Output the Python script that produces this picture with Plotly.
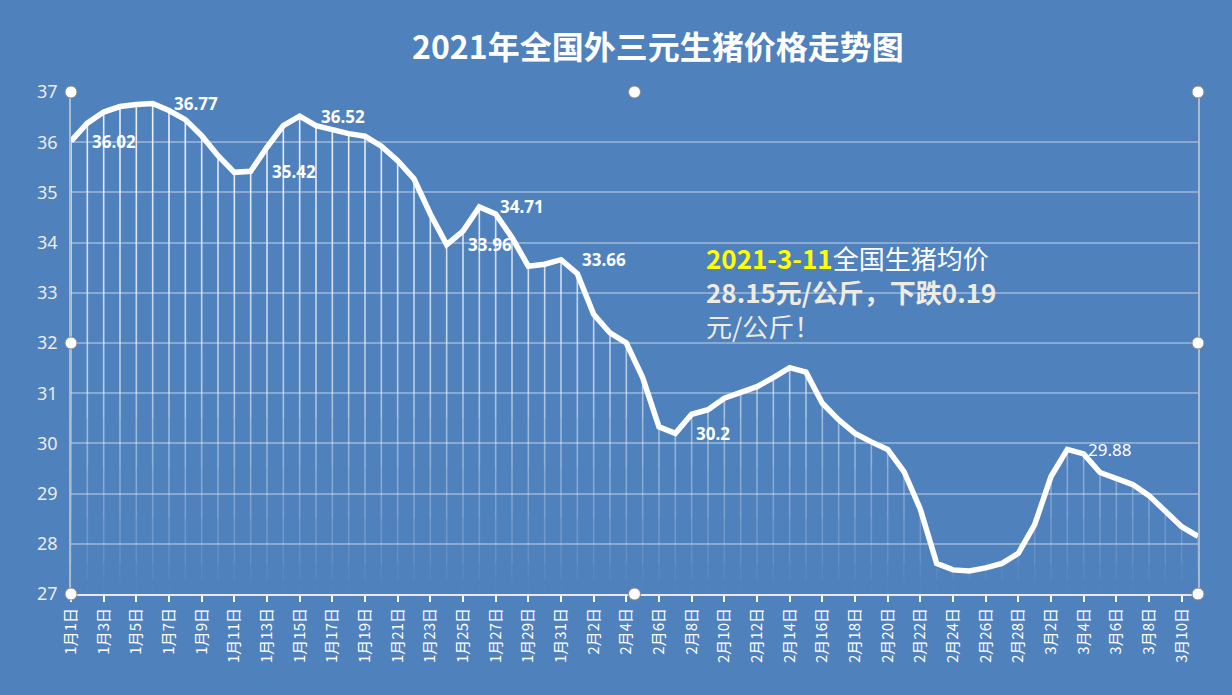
import pandas as pd
import plotly.graph_objects as go

# ---------------- data ----------------
days = [f"{d.month}月{d.day}日" for d in pd.date_range("2021-01-01", "2021-03-11")]

prices = [
    36.02, 36.38, 36.60, 36.71, 36.75, 36.77, 36.63, 36.45, 36.13, 35.73,
    35.40, 35.42, 35.90, 36.33, 36.52, 36.33, 36.25, 36.17, 36.12, 35.92,
    35.63, 35.27, 34.57, 33.96, 34.23, 34.71, 34.57, 34.10, 33.53, 33.57,
    33.66, 33.38, 32.57, 32.20, 32.00, 31.31, 30.33, 30.20, 30.58, 30.67,
    30.90, 31.02, 31.13, 31.31, 31.51, 31.42, 30.80, 30.47, 30.20, 30.03,
    29.88, 29.44, 28.69, 27.61, 27.48, 27.46, 27.52, 27.61, 27.81, 28.38,
    29.34, 29.88, 29.79, 29.42, 29.29, 29.18, 28.96, 28.66, 28.34, 28.15,
]

label_days = ["1月1日", "1月6日", "1月12日", "1月15日", "1月24日",
              "1月26日", "1月31日", "2月7日", "3月3日"]
label_texts = ["36.02", "36.77", "35.42", "36.52", "33.96",
               "34.71", "33.66", "30.2", "29.88"]
label_bold = [True, True, True, True, True, True, True, True, False]

tick_labels = days[::2]
y_ticks = [27, 28, 29, 30, 31, 32, 33, 34, 35, 36, 37]

title_text = "2021年全国外三元生猪价格走势图"
note_line1_date = "2021-3-11"
note_line1_rest = "全国生猪均价"
note_line2 = "28.15元/公斤，下跌0.19"
note_line3 = "元/公斤！"

# ---------------- style ----------------
BG = "#4F81BD"
CJK = "Noto Sans CJK SC"

fig = go.Figure()

# fading drop lines (opacity by height)
levels = [27.0, 27.3, 27.6, 28.0, 28.5, 29.0, 29.5, 30.0, 30.5, 31.0,
          32.0, 33.0, 34.0, 35.0, 36.0, 37.0]
alphas = [0.02, 0.06, 0.12, 0.19, 0.26, 0.32, 0.38, 0.45, 0.52, 0.60,
          0.68, 0.75, 0.80, 0.85, 0.88]
for lo, hi, a in zip(levels[:-1], levels[1:], alphas):
    xs, ys = [], []
    for d, v in zip(days, prices):
        if v > lo:
            xs += [d, d, None]
            ys += [lo, min(v, hi), None]
    if xs:
        fig.add_trace(go.Scatter(
            x=xs, y=ys, mode="lines",
            line=dict(color=f"rgba(255,255,255,{a})", width=1.6),
            hoverinfo="skip", showlegend=False))

# main price line
fig.add_trace(go.Scatter(
    x=days, y=prices, mode="lines",
    line=dict(color="white", width=5.5),
    showlegend=False, name="价格"))

# data labels
for d, t, b in zip(label_days, label_texts, label_bold):
    v = prices[days.index(d)]
    fig.add_annotation(
        x=d, y=v, text=f"<b>{t}</b>" if b else t, showarrow=False,
        xanchor="left", yanchor="middle", xshift=19,
        font=dict(family="Noto Sans", size=17, color="white"))

# commentary text (single block, three lines)
note_text = (
    f"<b><span style='color:#FFFF00'>{note_line1_date}</span></b>"
    f"<span style='color:#FFFFFF'>{note_line1_rest}</span><br>"
    f"<b>{note_line2}</b><br>"
    f"{note_line3}"
)
fig.add_annotation(
    xref="paper", yref="paper", x=0.562, y=0.602, xanchor="left", yanchor="middle",
    align="left", text=note_text, showarrow=False,
    font=dict(family=CJK, size=26, color="#EEECE1"))

# selection handles on the plot-area frame
for hx, hy in [(0, 1), (0.5, 1), (1, 1), (0, 0.5), (1, 0.5), (0, 0), (0.5, 0), (1, 0)]:
    fig.add_shape(type="circle", xref="paper", yref="paper",
                  xsizemode="pixel", ysizemode="pixel",
                  xanchor=hx, yanchor=hy, x0=-6, x1=6, y0=-6, y1=6,
                  fillcolor="white", line=dict(color="#8A8A8A", width=1),
                  layer="above")

fig.update_layout(
    width=1232, height=695,
    paper_bgcolor=BG, plot_bgcolor=BG,
    margin=dict(l=71, r=34, t=92, b=101),
    title=dict(text=f"<b>{title_text}</b>", x=0.534, xanchor="center",
               y=0.931, yanchor="middle",
               font=dict(family=CJK, size=32, color="white")),
    xaxis=dict(
        type="category", categoryorder="array", categoryarray=days,
        range=[0, len(days) - 1],
        tickmode="array", tickvals=tick_labels, ticktext=tick_labels,
        tickangle=-90, ticks="outside", ticklen=6, tickwidth=2, tickcolor="white",
        showline=True, linecolor="#E6E9EF", linewidth=2,
        showgrid=False, zeroline=False,
        tickfont=dict(family=CJK, size=15, color="white"),
    ),
    yaxis=dict(
        range=[27, 37], tickmode="array", tickvals=y_ticks,
        showgrid=True, gridcolor="rgba(255,255,255,0.33)", gridwidth=1.5,
        showline=True, linecolor="rgba(200,205,215,0.75)", linewidth=1.5, mirror=True,
        zeroline=False, ticks="", ticklabelstandoff=8,
        tickfont=dict(family="Noto Sans", size=18, color="#ECECEC"),
    ),
)

fig.write_html(
    "out.html",
    config={"displayModeBar": False},
    post_script="document.body.style.margin='0';document.body.style.overflow='hidden';",
)
